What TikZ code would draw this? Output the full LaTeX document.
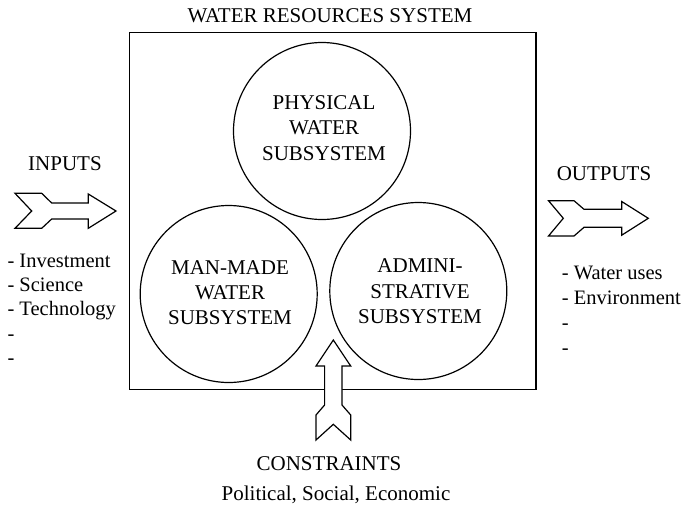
\documentclass[tikz,border=0pt]{standalone}
\usepackage{fontspec}
\setmainfont{Liberation Serif}
\begin{document}
\begin{tikzpicture}[x=1pt,y=-1pt,
  lbl/.style={font=\fontsize{21}{25}\selectfont, inner sep=0pt, anchor=base},
  lst/.style={font=\fontsize{20.5}{24}\selectfont, inner sep=0pt, anchor=base west},
  sub/.style={circle, draw, line width=1.2pt, minimum size=177pt, inner sep=0pt},
  frame/.style={draw, line width=1.2pt},
  bigarrow/.style={draw, fill=white, line width=1.2pt, line join=miter}]
\useasboundingbox (0,0) rectangle (685,509);
% system box
\draw[frame] (129.5,32.3) rectangle (536,389.5);
\node[lbl] (title) at (330,22.7) {WATER RESOURCES SYSTEM};
% subsystems
\node[sub] (phys) at (322,131) {};
\node[sub] (man) at (228.7,294) {};
\node[sub] (adm) at (418.3,291) {};
\node[lbl] (p1) at (324,109.3) {PHYSICAL};
\node[lbl] (p2) at (324,134.8) {WATER};
\node[lbl] (p3) at (324,160.2) {SUBSYSTEM};
\node[lbl] (m1) at (230,274) {MAN-MADE};
\node[lbl] (m2) at (230,299.3) {WATER};
\node[lbl] (m3) at (230,324.5) {SUBSYSTEM};
\node[lbl] (a1) at (420,272.7) {ADMINI-};
\node[lbl] (a2) at (420,298) {STRATIVE};
\node[lbl] (a3) at (420,323.3) {SUBSYSTEM};
% inputs
\node[lbl] (inputs) at (65,170.7) {INPUTS};
\draw[bigarrow] (15,193.3) -- (41.7,193.3) -- (51.7,203) -- (88.3,203) -- (88.3,194)
  -- (116,211) -- (88.3,228.3) -- (88.3,219) -- (51.7,219) -- (41.7,228.3)
  -- (15,228.3) -- (31.7,211) -- cycle;
\node[lst] (i1) at (7.3,267) {- Investment};
\node[lst] (i2) at (7.3,291) {- Science};
\node[lst] (i3) at (7.3,315) {- Technology};
\node[lst] (i4) at (7.3,340) {-};
\node[lst] (i5) at (7.3,364) {-};
% outputs
\node[lbl] (outputs) at (604,180.7) {OUTPUTS};
\draw[bigarrow] (548.5,200.7) -- (574,200.7) -- (584,209.3) -- (621.7,209.3) -- (621.7,201.5)
  -- (648.3,218.3) -- (621.7,235.2) -- (621.7,227.3) -- (584,227.3) -- (574,236)
  -- (548.5,236) -- (563.3,218.3) -- cycle;
\node[lst] (o1) at (561.7,279) {- Water uses};
\node[lst] (o2) at (561.7,304) {- Environment};
\node[lst] (o3) at (561.7,329) {-};
\node[lst] (o4) at (561.7,354) {-};
% constraints
\draw[bigarrow] (333.3,340) -- (350.7,366) -- (342,366) -- (342,405) -- (350.7,415)
  -- (350.7,440) -- (333.3,424.3) -- (316,440) -- (316,415) -- (324.6,405)
  -- (324.6,366) -- (316,366) -- cycle;
\node[lbl] (constr) at (329,470) {CONSTRAINTS};
\node[lbl] (pse) at (336,500) {Political, Social, Economic};
\end{tikzpicture}
\end{document}
